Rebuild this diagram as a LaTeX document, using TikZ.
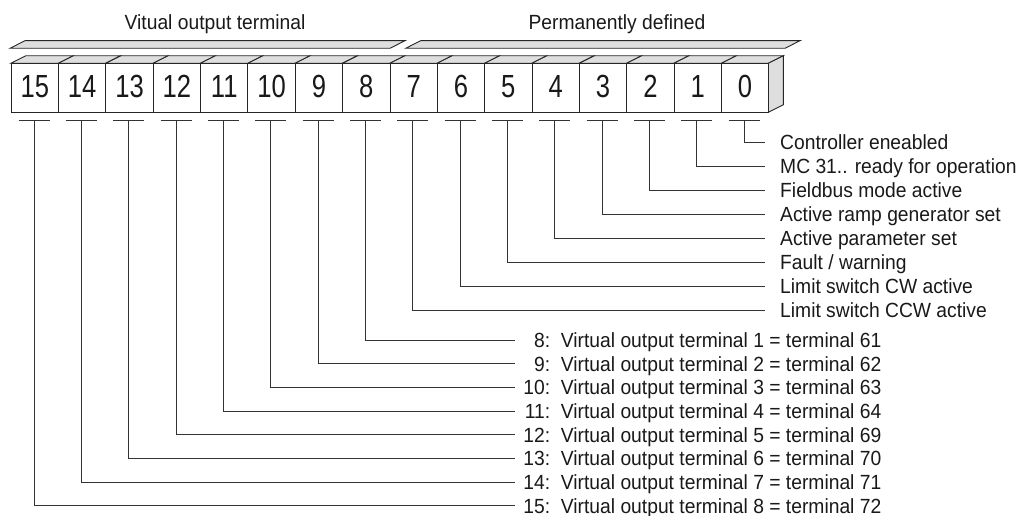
\documentclass[tikz,border=0pt]{standalone}
\usepackage{fontspec}
\setmainfont{Liberation Sans}
\newfontfamily\labelfont[FakeStretch=0.94]{Liberation Sans}
\newfontfamily\digitfont[FakeStretch=0.8]{Liberation Sans}
\begin{document}
\begin{tikzpicture}[x=1pt,y=-1pt,
  wire/.style={draw=black!80, line width=1pt},
  face/.style={draw=black!85, line width=0.9pt, fill=white},
  shade/.style={draw=black!85, line width=0.9pt, fill=black!13, line join=miter},
  bitnum/.style={font=\digitfont\fontsize{32}{32}\selectfont, text=black!90,
    text height=23pt, text depth=0pt, inner sep=0pt},
  lbl/.style={font=\labelfont\fontsize{20.5}{21}\selectfont, text=black!90, anchor=west,
    inner sep=0pt, text height=14.7pt, text depth=0pt},
  head/.style={font=\labelfont\fontsize{20.5}{21}\selectfont, text=black!90, anchor=base, inner sep=0pt}]
\useasboundingbox (0,0) rectangle (1028,516);

% group headings and their brackets
\node[head] (h1) at (215,30) {Vitual output terminal};
\node[head] (h2) at (617,30) {Permanently defined};
\draw[shade] (10,48.3) -- (25,40.7) -- (405,40.7) -- (390,48.3) -- cycle;
\draw[shade] (405.7,48.3) -- (420.7,40.7) -- (800,40.7) -- (785,48.3) -- cycle;

% register cells: top faces, right end face, front faces
\def\bw{47.35}
\foreach \i in {0,...,15}{
  \pgfmathsetmacro\L{10.7+(15-\i)*\bw}
  \pgfmathsetmacro\R{\L+\bw}
  \draw[shade] (\L,63.3) -- (\L+15,55.8) -- (\R+15,55.8) -- (\R,63.3) -- cycle;
}
\draw[shade] (768.3,63.3) -- (783.3,55.8) -- (783.3,104.8) -- (768.3,112.3) -- cycle;
\foreach \i in {0,...,15}{
  \pgfmathsetmacro\L{10.7+(15-\i)*\bw}
  \node[face, minimum width=\bw pt, minimum height=49pt, inner sep=0pt, anchor=north west]
    (b\i) at (\L,63.3) {};
  \node[bitnum] at ([yshift=2.3pt]b\i.center) {\i};
  \coordinate (t\i) at ([xshift=-0.8pt,yshift=-7pt]b\i.south);
  \draw[wire] ([xshift=-15.5pt]t\i) -- ([xshift=15.5pt]t\i);
}

% status bits 0..7
\node[lbl] (l0) at (780,142.3) {Controller eneabled};
\node[lbl] (l1) at (780,166.3) {MC 31.. ready for operation};
\node[lbl] (l2) at (780,190.3) {Fieldbus mode active};
\node[lbl] (l3) at (780,214.3) {Active ramp generator set};
\node[lbl] (l4) at (780,238.3) {Active parameter set};
\node[lbl] (l5) at (780,262.3) {Fault / warning};
\node[lbl] (l6) at (780,286.3) {Limit switch CW active};
\node[lbl] (l7) at (780,310.3) {Limit switch CCW active};
\foreach \i in {0,...,7}{
  \draw[wire] (t\i) |- ([xshift=-15pt]l\i.west);
}

% virtual output terminals, bits 8..15
\foreach \i/\k/\n in {8/1/61, 9/2/62, 10/3/63, 11/4/64, 12/5/69, 13/6/70, 14/7/71, 15/8/72}{
  \node[lbl] (l\i) at (519,{340+23.7*(\i-8)})
    {\makebox[31pt][r]{\i:}\ \ Virtual output terminal \k\ = terminal \n};
  \draw[wire] (t\i) |- ([xshift=-4pt]l\i.west);
}
\end{tikzpicture}
\end{document}
